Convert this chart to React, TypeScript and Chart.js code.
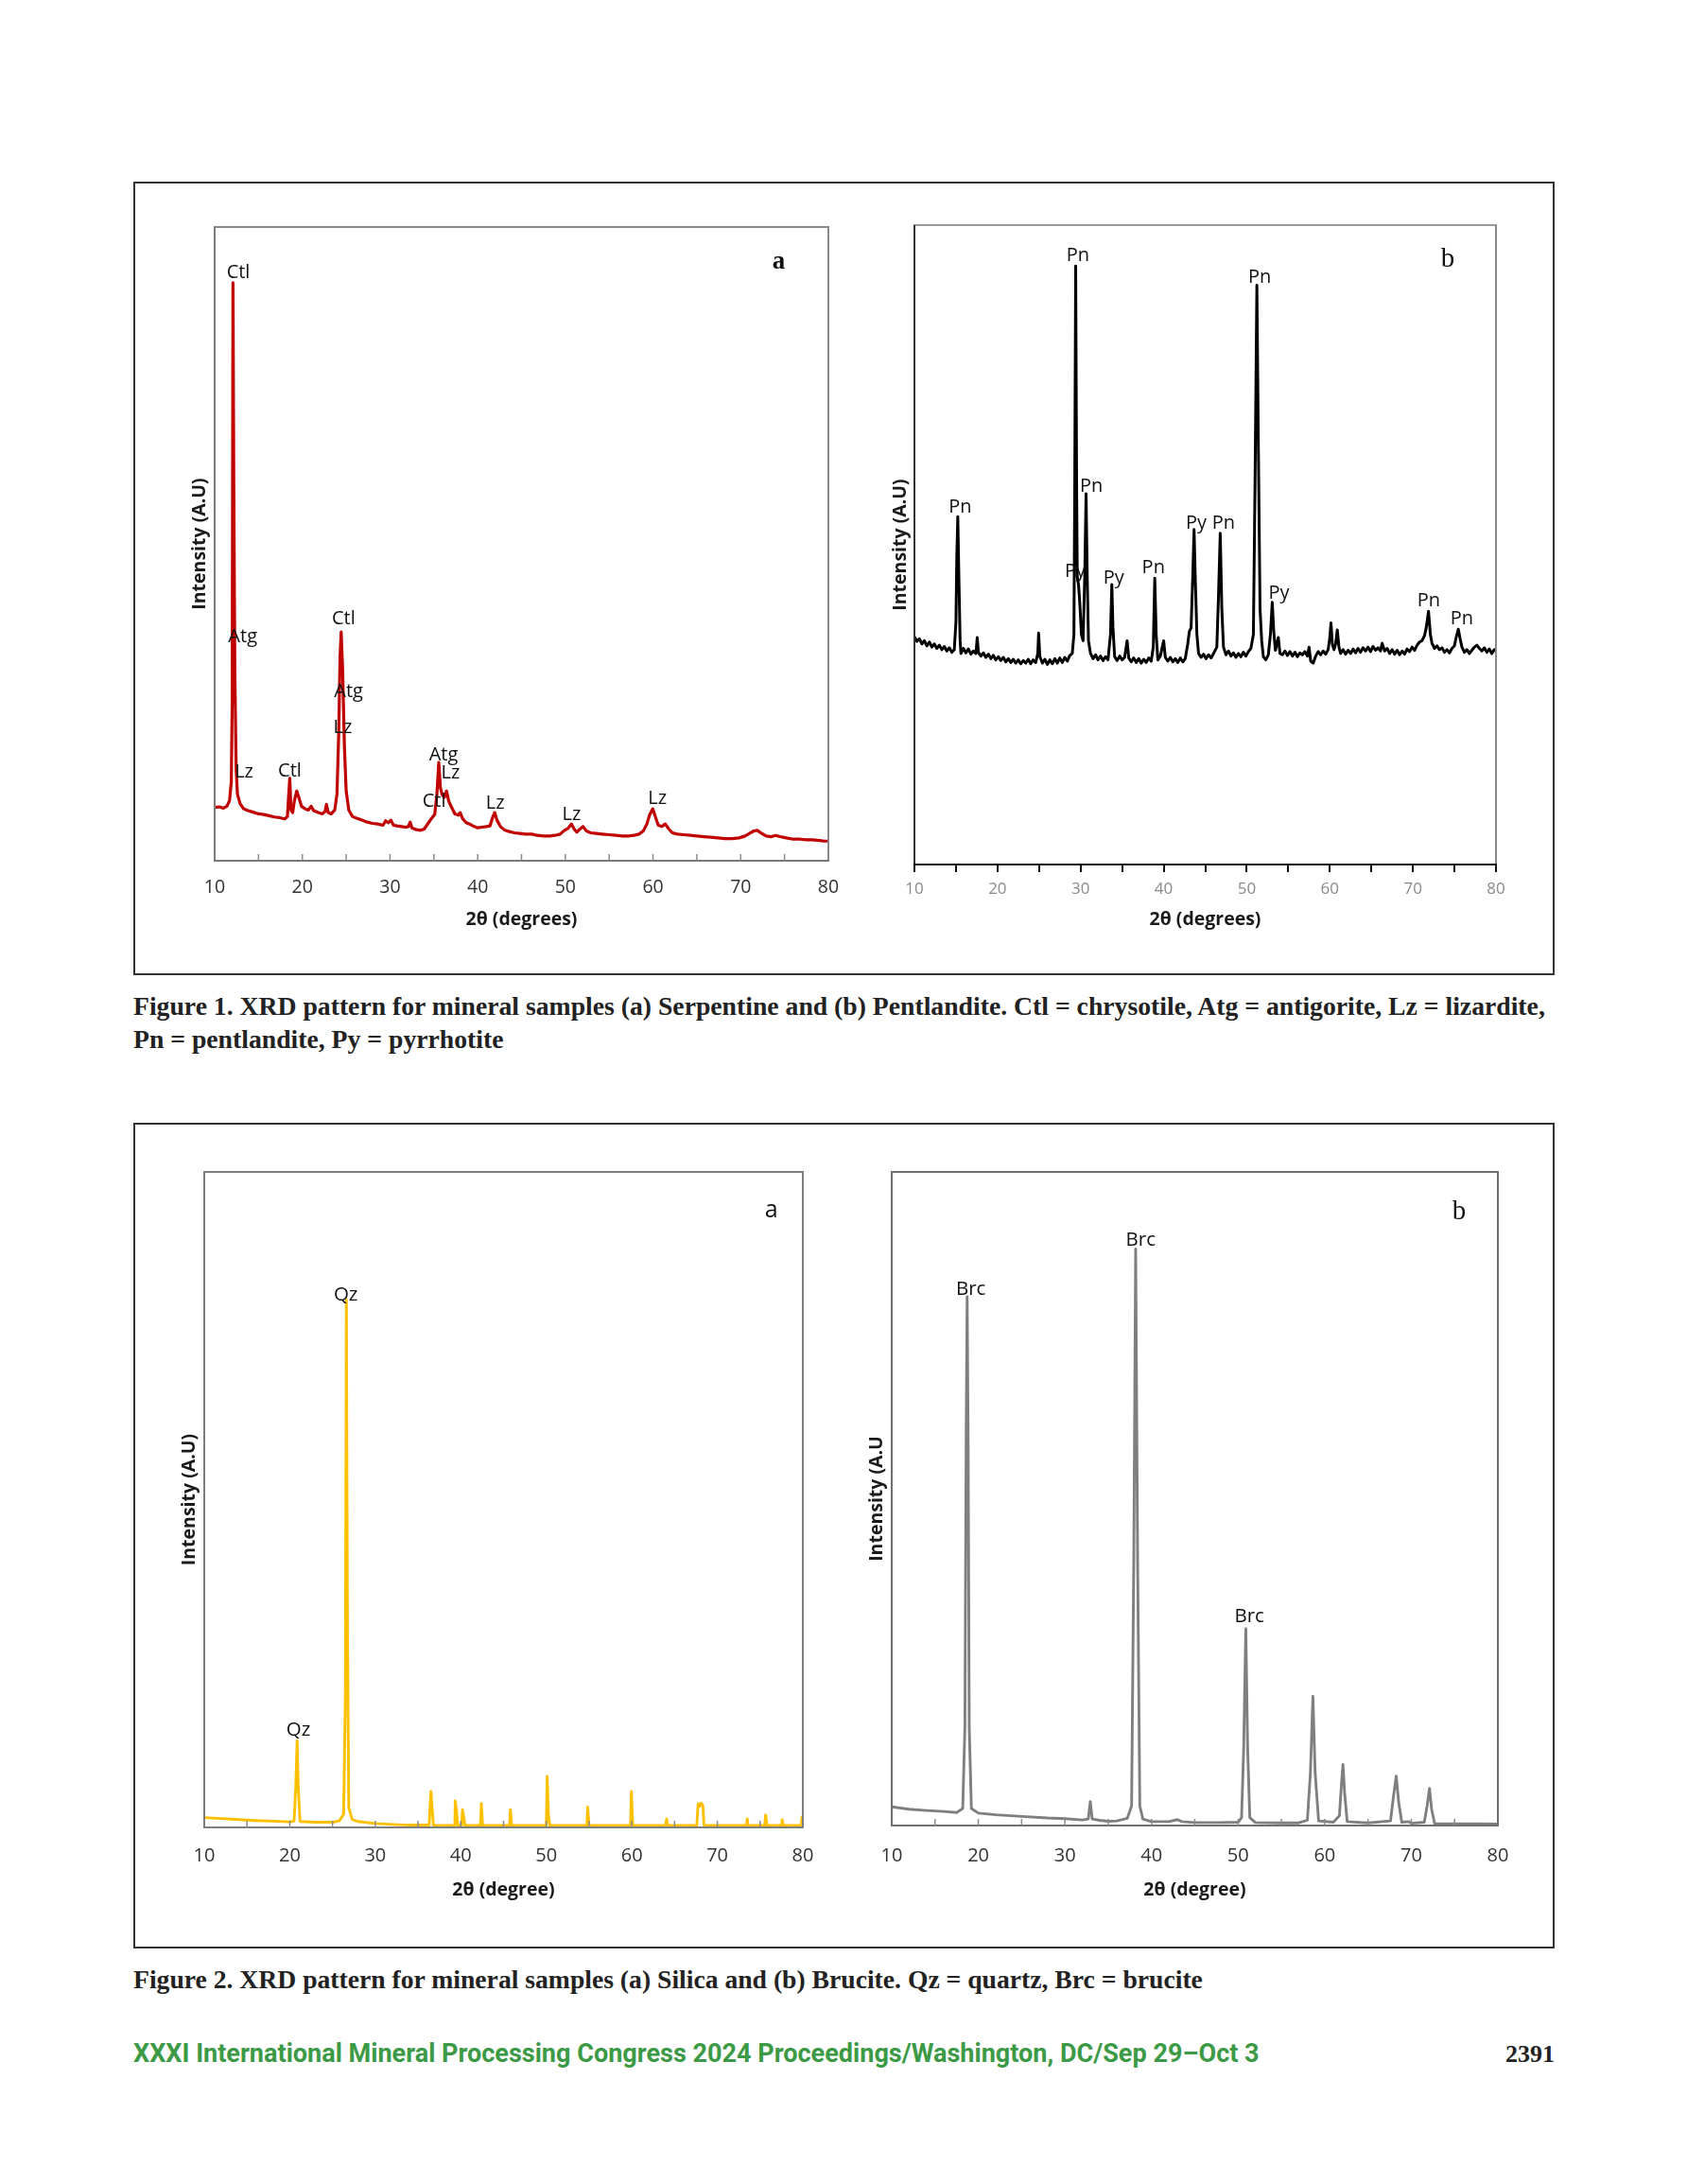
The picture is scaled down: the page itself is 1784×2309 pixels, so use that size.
import React, { useEffect, useMemo, useRef } from "react";
import { Chart, registerables } from "chart.js";

Chart.register(...registerables);

type Pt = [number, number];
type PeakLabel = { text: string; x: number; y: number };

// ---------- x-axis ticks (2θ, degrees) ----------
const thetaMajor = [10, 20, 30, 40, 50, 60, 70, 80];
const thetaMinor = [15, 20, 25, 30, 35, 40, 45, 50, 55, 60, 65, 70, 75];

// ---------- Figure 1a : Serpentine ----------
const serpentine: Pt[] = [
  [10.0, 8.4], [10.5, 8.5], [11.0, 8.3], [11.4, 8.6], [11.7, 9.5], [11.9, 12.5], [12.0, 25],
  [12.09, 91.2], [12.18, 60], [12.3, 30], [12.45, 14.5], [12.6, 10.5], [12.9, 9.0], [13.3, 8.2],
  [13.8, 7.9], [14.3, 7.7], [15.0, 7.4], [15.6, 7.3], [16.2, 7.1], [16.8, 6.9], [17.4, 6.8],
  [18.0, 6.6], [18.3, 7.0], [18.45, 10.5], [18.57, 13.0], [18.7, 8.0], [18.9, 7.6], [19.1, 9.5],
  [19.36, 11.0], [19.6, 10.0], [19.9, 8.6], [20.3, 8.2], [20.7, 8.0], [21.0, 8.6], [21.3, 7.9],
  [21.8, 7.6], [22.3, 7.4], [22.6, 7.8], [22.75, 8.9], [22.95, 7.6], [23.3, 7.4], [23.7, 8.0],
  [23.95, 10.5], [24.15, 20], [24.3, 32], [24.43, 36.1], [24.6, 30], [24.8, 18], [25.0, 11],
  [25.3, 8.0], [25.7, 7.0], [26.2, 6.7], [26.8, 6.4], [27.4, 6.1], [28.0, 5.9], [28.6, 5.8],
  [29.2, 5.6], [29.5, 6.3], [29.8, 6.0], [30.1, 6.4], [30.4, 5.6], [30.8, 5.5], [31.3, 5.4],
  [31.8, 5.3], [32.1, 5.4], [32.3, 6.1], [32.5, 5.2], [33.0, 4.9], [33.5, 4.8], [33.9, 5.0],
  [34.3, 5.8], [34.7, 6.6], [35.1, 7.3], [35.35, 10.5], [35.56, 15.5], [35.75, 11.5], [35.95, 10.4],
  [36.2, 10.0], [36.45, 11.0], [36.7, 9.4], [37.0, 8.5], [37.4, 7.4], [37.8, 7.2], [38.0, 7.6],
  [38.3, 6.6], [38.7, 6.0], [39.2, 5.7], [39.6, 5.4], [40.0, 5.2], [40.5, 5.3], [41.0, 5.4],
  [41.4, 5.5], [41.7, 6.8], [41.94, 7.6], [42.2, 6.4], [42.6, 5.4], [43.0, 4.9], [43.6, 4.6],
  [44.2, 4.4], [44.8, 4.3], [45.5, 4.2], [46.2, 4.2], [46.8, 4.0], [47.5, 3.9], [48.2, 3.9],
  [48.8, 4.0], [49.4, 4.2], [49.9, 4.8], [50.3, 5.1], [50.7, 5.8], [51.0, 5.0], [51.3, 4.5],
  [51.6, 4.9], [52.0, 5.4], [52.4, 4.7], [52.9, 4.4], [53.5, 4.3], [54.2, 4.2], [55.0, 4.1],
  [55.8, 4.0], [56.5, 3.9], [57.2, 3.9], [57.8, 4.0], [58.4, 4.2], [58.9, 4.7], [59.3, 5.8],
  [59.6, 7.2], [59.97, 8.2], [60.3, 6.8], [60.6, 5.6], [61.0, 5.4], [61.4, 5.8], [61.8, 5.0],
  [62.2, 4.4], [62.8, 4.2], [63.5, 4.1], [64.3, 4.0], [65.0, 3.9], [65.8, 3.8], [66.6, 3.7],
  [67.4, 3.6], [68.2, 3.5], [69.0, 3.5], [69.8, 3.6], [70.5, 3.9], [71.0, 4.3], [71.5, 4.7],
  [71.9, 4.8], [72.4, 4.3], [72.9, 3.9], [73.5, 3.8], [74.0, 4.0], [74.5, 3.8], [75.2, 3.6],
  [76.0, 3.4], [76.8, 3.4], [77.5, 3.3], [78.2, 3.3], [79.0, 3.2], [79.5, 3.1], [80.0, 3.1],
];
const serpentineLabels: PeakLabel[] = [
  { text: "Ctl", x: 12.7, y: 92.8 },
  { text: "Atg", x: 13.2, y: 35.3 },
  { text: "Lz", x: 13.35, y: 14.05 },
  { text: "Ctl", x: 18.57, y: 14.2 },
  { text: "Ctl", x: 24.7, y: 38.2 },
  { text: "Atg", x: 25.27, y: 26.6 },
  { text: "Lz", x: 24.6, y: 21.0 },
  { text: "Atg", x: 36.1, y: 16.65 },
  { text: "Lz", x: 36.9, y: 13.8 },
  { text: "Ctl", x: 35.04, y: 9.3 },
  { text: "Lz", x: 42.0, y: 9.1 },
  { text: "Lz", x: 50.7, y: 7.3 },
  { text: "Lz", x: 60.5, y: 9.75 },
];

// ---------- Figure 1b : Pentlandite ----------
const pentlandite: Pt[] = [
  [10.0, 35.6], [10.3, 34.9], [10.6, 35.3], [10.9, 34.5], [11.2, 35.0], [11.5, 34.2], [11.8, 34.8],
  [12.1, 34.0], [12.4, 34.5], [12.7, 33.8], [13.0, 34.3], [13.3, 33.6], [13.6, 34.1], [13.9, 33.4],
  [14.2, 33.9], [14.5, 33.2], [14.8, 33.6], [15.0, 38.0], [15.1, 48.0], [15.22, 54.4], [15.35, 45.0],
  [15.5, 35.0], [15.6, 33.0], [15.9, 33.8], [16.2, 33.1], [16.5, 33.7], [16.8, 32.9], [17.1, 33.4],
  [17.4, 33.0], [17.56, 35.5], [17.7, 33.2], [18.0, 32.6], [18.3, 33.1], [18.6, 32.4], [18.9, 32.9],
  [19.2, 32.2], [19.5, 32.7], [19.8, 32.0], [20.1, 32.5], [20.4, 31.9], [20.7, 32.4], [21.0, 31.7],
  [21.3, 32.2], [21.6, 31.6], [21.9, 32.1], [22.2, 31.5], [22.5, 32.0], [22.8, 31.4], [23.1, 31.9],
  [23.4, 31.5], [23.7, 32.1], [24.0, 31.4], [24.3, 32.0], [24.6, 31.6], [24.85, 33.0], [24.95, 36.2],
  [25.1, 32.5], [25.4, 31.5], [25.7, 32.1], [26.0, 31.3], [26.3, 32.0], [26.6, 31.4], [26.9, 32.2],
  [27.2, 31.5], [27.5, 32.3], [27.8, 31.6], [28.1, 32.4], [28.4, 31.8], [28.7, 32.7], [29.0, 33.0],
  [29.2, 36.0], [29.3, 60.0], [29.41, 93.6], [29.52, 60.0], [29.6, 45.0], [29.75, 43.8], [29.9, 41.0],
  [30.1, 36.0], [30.3, 35.0], [30.5, 45.0], [30.66, 58.0], [30.8, 45.0], [30.95, 35.0], [31.2, 33.0],
  [31.5, 32.2], [31.8, 32.8], [32.1, 32.0], [32.4, 32.6], [32.7, 31.9], [33.0, 32.5], [33.3, 32.0],
  [33.6, 36.0], [33.76, 43.8], [33.9, 37.0], [34.1, 32.5], [34.4, 31.9], [34.7, 32.6], [35.0, 32.0],
  [35.3, 32.4], [35.6, 35.0], [35.8, 32.3], [36.1, 31.7], [36.4, 32.3], [36.7, 31.6], [37.0, 32.2],
  [37.3, 31.5], [37.6, 32.1], [37.9, 31.6], [38.2, 32.3], [38.5, 31.8], [38.75, 34.0], [38.93, 44.8],
  [39.1, 36.0], [39.3, 32.0], [39.6, 32.6], [40.0, 35.0], [40.2, 32.4], [40.5, 31.8], [40.8, 32.4],
  [41.1, 31.7], [41.4, 32.2], [41.7, 31.6], [42.0, 32.3], [42.3, 31.7], [42.6, 32.2], [42.9, 34.5],
  [43.1, 36.5], [43.3, 37.0], [43.5, 45.0], [43.66, 52.4], [43.8, 45.0], [44.0, 36.0], [44.2, 33.0],
  [44.5, 32.4], [44.8, 32.9], [45.1, 32.2], [45.4, 32.8], [45.7, 32.3], [46.0, 33.0], [46.4, 34.0],
  [46.6, 42.0], [46.81, 51.8], [47.0, 40.0], [47.2, 34.0], [47.5, 32.8], [47.8, 33.4], [48.1, 32.6],
  [48.4, 33.1], [48.7, 32.4], [49.0, 33.0], [49.3, 32.5], [49.6, 33.2], [49.9, 32.6], [50.2, 33.3],
  [50.5, 33.8], [50.8, 36.0], [51.0, 60.0], [51.22, 90.6], [51.4, 65.0], [51.6, 40.0], [51.8, 35.0],
  [52.0, 32.5], [52.3, 32.0], [52.6, 32.8], [52.85, 36.0], [53.07, 41.0], [53.25, 36.5], [53.45, 33.5],
  [53.8, 35.5], [54.0, 33.0], [54.3, 32.8], [54.6, 33.4], [54.9, 32.7], [55.2, 33.3], [55.5, 32.6],
  [55.8, 33.2], [56.1, 32.5], [56.4, 33.1], [56.7, 32.8], [57.0, 33.3], [57.3, 32.6], [57.5, 34.0],
  [57.7, 31.8], [58.0, 31.5], [58.3, 32.6], [58.6, 33.3], [58.9, 32.8], [59.2, 33.4], [59.5, 32.9],
  [59.8, 33.6], [60.0, 35.5], [60.14, 37.8], [60.3, 34.5], [60.5, 33.6], [60.7, 34.5], [60.9, 36.7],
  [61.1, 34.0], [61.3, 33.0], [61.6, 33.6], [61.9, 32.9], [62.2, 33.5], [62.5, 33.0], [62.8, 33.7],
  [63.1, 33.1], [63.4, 33.8], [63.7, 33.2], [64.0, 33.9], [64.3, 33.4], [64.6, 34.0], [64.9, 33.3],
  [65.2, 34.1], [65.5, 33.5], [65.8, 33.9], [66.1, 33.4], [66.3, 34.6], [66.6, 33.4], [66.9, 33.8],
  [67.2, 33.0], [67.5, 33.6], [67.8, 32.9], [68.1, 33.5], [68.4, 32.8], [68.7, 33.4], [69.0, 32.9],
  [69.3, 33.7], [69.6, 33.3], [69.9, 34.0], [70.2, 33.5], [70.5, 34.3], [70.8, 34.8], [71.1, 35.0],
  [71.4, 35.8], [71.6, 37.0], [71.88, 39.6], [72.1, 36.0], [72.3, 34.6], [72.6, 33.8], [72.9, 34.2],
  [73.2, 33.6], [73.5, 33.9], [73.8, 33.2], [74.1, 33.6], [74.4, 33.1], [74.7, 33.8], [75.0, 34.2],
  [75.2, 35.5], [75.47, 36.8], [75.7, 35.2], [75.9, 34.0], [76.2, 33.2], [76.5, 33.6], [76.8, 33.0],
  [77.1, 33.5], [77.4, 34.0], [77.7, 34.3], [78.0, 33.8], [78.3, 33.4], [78.6, 33.9], [78.9, 33.2],
  [79.2, 33.7], [79.5, 33.0], [79.8, 33.6], [80.0, 33.6],
];
const pentlanditeLabels: PeakLabel[] = [
  { text: "Pn", x: 29.68, y: 95.2 },
  { text: "Pn", x: 51.55, y: 91.8 },
  { text: "Pn", x: 31.3, y: 59.2 },
  { text: "Pn", x: 15.5, y: 55.8 },
  { text: "Py", x: 29.36, y: 45.8 },
  { text: "Py", x: 34.0, y: 44.75 },
  { text: "Pn", x: 38.77, y: 46.4 },
  { text: "Py", x: 43.93, y: 53.4 },
  { text: "Pn", x: 47.2, y: 53.4 },
  { text: "Py", x: 53.88, y: 42.35 },
  { text: "Pn", x: 71.9, y: 41.2 },
  { text: "Pn", x: 75.9, y: 38.4 },
];

// ---------- Figure 2a : Silica ----------
const silica: Pt[] = [
  [10, 1.5], [12, 1.35], [14, 1.2], [16, 1.05], [18, 0.95], [20, 0.85], [20.5, 0.95], [20.7, 6],
  [20.86, 13.2], [21.0, 6], [21.2, 0.9], [23, 0.8], [25, 0.8], [25.8, 1.0], [26.3, 2.0], [26.5, 20],
  [26.62, 80.5], [26.75, 30], [26.9, 3], [27.3, 1.2], [28, 0.9], [30, 0.6], [32, 0.45], [34, 0.35],
  [36.3, 0.35], [36.4, 3], [36.51, 5.5], [36.65, 3], [36.8, 0.3], [39.3, 0.3], [39.35, 4.05],
  [39.5, 2.5], [39.65, 0.3], [40.1, 0.3], [40.2, 2.7], [40.35, 1.5], [40.5, 0.3], [42.3, 0.3],
  [42.41, 3.65], [42.55, 0.3], [45.7, 0.3], [45.8, 2.7], [45.95, 0.3], [50.0, 0.3], [50.1, 7.8],
  [50.25, 2], [50.4, 0.3], [54.75, 0.3], [54.84, 3.1], [55.0, 0.3], [59.85, 0.3], [59.95, 5.5],
  [60.1, 0.3], [63.95, 0.3], [64.07, 1.3], [64.2, 0.3], [67.6, 0.3], [67.75, 3.6], [67.95, 3.2],
  [68.1, 3.7], [68.3, 3.4], [68.45, 0.3], [73.4, 0.3], [73.5, 1.3], [73.6, 0.3], [75.55, 0.3],
  [75.65, 1.9], [75.8, 0.3], [77.5, 0.3], [77.6, 1.2], [77.7, 0.3], [79.8, 0.3], [79.9, 1.6], [80, 1.2],
];
const silicaLabels: PeakLabel[] = [
  { text: "Qz", x: 26.55, y: 81.2 },
  { text: "Qz", x: 21.0, y: 14.9 },
];

// ---------- Figure 2b : Brucite ----------
const brucite: Pt[] = [
  [10, 2.85], [12, 2.5], [14, 2.3], [16, 2.15], [17.5, 2.0], [18.2, 2.6], [18.45, 15], [18.6, 60],
  [18.71, 80.9], [18.82, 60], [18.95, 15], [19.2, 2.6], [20, 1.9], [22, 1.65], [25, 1.4], [28, 1.15],
  [30, 1.05], [32, 0.85], [32.7, 1.0], [32.93, 3.66], [33.15, 1.0], [34, 0.8], [35, 0.65], [36, 0.7],
  [37.2, 1.1], [37.7, 3], [37.95, 40], [38.17, 88.2], [38.4, 40], [38.65, 3], [39.0, 1.0], [40, 0.6],
  [42, 0.6], [43, 0.9], [43.5, 0.6], [45, 0.45], [48, 0.45], [50, 0.5], [50.4, 1.2], [50.65, 12],
  [50.89, 30.1], [51.1, 12], [51.35, 1.2], [52, 0.45], [55, 0.4], [57, 0.4], [58.0, 0.8], [58.35, 8],
  [58.64, 19.75], [58.9, 8], [59.3, 0.7], [61.0, 0.5], [61.7, 1.5], [61.92, 6], [62.11, 9.35],
  [62.3, 5], [62.6, 0.6], [65, 0.4], [67.6, 0.7], [67.95, 4.5], [68.26, 7.56], [68.55, 3.5],
  [68.9, 0.5], [69.7, 0.6], [70, 0.35], [71.5, 0.5], [71.85, 3.2], [72.1, 5.7], [72.35, 2.5],
  [72.7, 0.3], [75, 0.25], [78, 0.25], [80, 0.24],
];
const bruciteLabels: PeakLabel[] = [
  { text: "Brc", x: 19.14, y: 82.0 },
  { text: "Brc", x: 38.75, y: 89.5 },
  { text: "Brc", x: 51.3, y: 31.9 },
];

// ---------- layout ----------
const SANS = "'Open Sans', 'Noto Sans', sans-serif";
const SERIF = "'Liberation Serif', 'DejaVu Serif', serif";
const PAD_L = 60;
const PAD_T = 12;
const PAD_R = 16;
const XH = 100;
const TITLE_SIZE = 19.5;

interface PanelCfg {
  L: number; T: number; R: number; B: number;
  yTitleX: number; tickY: number; xTitleY: number;
  data: Pt[]; labels: PeakLabel[];
  color: string; lineWidth: number;
  labelSize: number;
  letter: { text: string; x: number; y: number; font: string };
  xTitle: string; yTitle: string;
  tickColor: string; tickSize: number; outerTicks: boolean;
  frame: { top: string; right: string; bottom: string; left: string };
}

const panels: PanelCfg[] = [
  {
    L: 227, T: 240, R: 876, B: 910, yTitleX: 211, tickY: 938, xTitleY: 972,
    data: serpentine, labels: serpentineLabels, color: "#c00000", lineWidth: 3.2, labelSize: 20,
    letter: { text: "a", x: 74.35, y: 94.5, font: `bold 27px ${SERIF}` },
    xTitle: "2θ (degrees)", yTitle: "Intensity (A.U)", tickColor: "#333", tickSize: 19.5, outerTicks: false,
    frame: { top: "#8a8a8a", right: "#8a8a8a", bottom: "#7a7a7a", left: "#7a7a7a" },
  },
  {
    L: 967, T: 238, R: 1582, B: 914, yTitleX: 952, tickY: 940, xTitleY: 972,
    data: pentlandite, labels: pentlanditeLabels, color: "#000000", lineWidth: 3.0, labelSize: 20,
    letter: { text: "b", x: 74.2, y: 94.6, font: `29px ${SERIF}` },
    xTitle: "2θ (degrees)", yTitle: "Intensity (A.U)", tickColor: "#8a8a8a", tickSize: 17, outerTicks: true,
    frame: { top: "#9a9a9a", right: "#8a8a8a", bottom: "#111", left: "#333" },
  },
  {
    L: 216, T: 1239, R: 849, B: 1932, yTitleX: 200, tickY: 1962, xTitleY: 1998,
    data: silica, labels: silicaLabels, color: "#ffc000", lineWidth: 2.9, labelSize: 20.5,
    letter: { text: "a", x: 76.33, y: 94.1, font: `25px ${SANS}` },
    xTitle: "2θ (degree)", yTitle: "Intensity (A.U)", tickColor: "#333", tickSize: 20, outerTicks: false,
    frame: { top: "#7f7f7f", right: "#7f7f7f", bottom: "#7f7f7f", left: "#7f7f7f" },
  },
  {
    L: 943, T: 1239, R: 1584, B: 1930, yTitleX: 927, tickY: 1962, xTitleY: 1998,
    data: brucite, labels: bruciteLabels, color: "#7f7f7f", lineWidth: 2.9, labelSize: 20.5,
    letter: { text: "b", x: 75.53, y: 93.9, font: `29px ${SERIF}` },
    xTitle: "2θ (degree)", yTitle: "Intensity (A.U", tickColor: "#333", tickSize: 20, outerTicks: false,
    frame: { top: "#6f6f6f", right: "#6f6f6f", bottom: "#6f6f6f", left: "#6f6f6f" },
  },
];

function XrdPanel({ cfg }: { cfg: PanelCfg }) {
  const ref = useRef<HTMLCanvasElement>(null);
  const w = cfg.R - cfg.L + PAD_L + PAD_R;
  const h = cfg.B - cfg.T + PAD_T + XH;

  useEffect(() => {
    const canvas = ref.current;
    if (!canvas) return;
    const tickLh = cfg.tickSize * 1.2;
    const titleLh = TITLE_SIZE * 1.2;
    const tl = cfg.outerTicks ? 8 : 0;
    const tickPadding = cfg.tickY - cfg.B - tickLh / 2 - tl;
    const xTitlePad = XH - (cfg.xTitleY - cfg.B) - titleLh / 2;
    const yTitlePad = cfg.yTitleX - (cfg.L - PAD_L) - titleLh / 2;

    const framePlugin = {
      id: "frame",
      afterDatasetsDraw(chart: any) {
        const { ctx, chartArea: a, scales } = chart;
        ctx.save();
        ctx.lineWidth = 2;
        const seg = (c: string, x1: number, y1: number, x2: number, y2: number) => {
          ctx.strokeStyle = c;
          ctx.beginPath();
          ctx.moveTo(x1, y1);
          ctx.lineTo(x2, y2);
          ctx.stroke();
        };
        seg(cfg.frame.top, a.left - 1, a.top, a.right + 1, a.top);
        seg(cfg.frame.right, a.right, a.top, a.right, a.bottom);
        seg(cfg.frame.left, a.left, a.top, a.left, a.bottom);
        seg(cfg.frame.bottom, a.left - 1, a.bottom, a.right + 1, a.bottom);
        if (!cfg.outerTicks) {
          ctx.lineWidth = 1.5;
          for (const v of thetaMinor) {
            const px = scales.x.getPixelForValue(v);
            seg("#8a8a8a", px, a.bottom, px, a.bottom - 7);
          }
        }
        ctx.restore();
      },
    };

    const labelPlugin = {
      id: "peakLabels",
      afterDraw(chart: any) {
        const { ctx, scales } = chart;
        ctx.save();
        ctx.textAlign = "center";
        ctx.textBaseline = "middle";
        ctx.fillStyle = "#111";
        ctx.font = `${cfg.labelSize}px ${SANS}`;
        for (const l of cfg.labels) {
          ctx.fillText(l.text, scales.x.getPixelForValue(l.x), scales.y.getPixelForValue(l.y));
        }
        ctx.font = cfg.letter.font;
        ctx.fillText(cfg.letter.text, scales.x.getPixelForValue(cfg.letter.x), scales.y.getPixelForValue(cfg.letter.y));
        ctx.restore();
      },
    };

    const tickValues = cfg.outerTicks
      ? Array.from(new Set([...thetaMajor, ...thetaMinor])).sort((a, b) => a - b)
      : thetaMajor;

    const chart = new Chart(canvas, {
      type: "line",
      data: {
        datasets: [
          {
            data: cfg.data.map(([x, y]) => ({ x, y })),
            borderColor: cfg.color,
            borderWidth: cfg.lineWidth,
            pointRadius: 0,
            tension: 0,
            fill: false,
            borderJoinStyle: "round",
          },
        ],
      },
      options: {
        responsive: false,
        animation: false,
        devicePixelRatio: 1,
        layout: { padding: { top: PAD_T, right: PAD_R, left: 0, bottom: 0 } },
        plugins: { legend: { display: false }, tooltip: { enabled: false } },
        scales: {
          x: {
            type: "linear",
            min: 10,
            max: 80,
            afterBuildTicks: (s: any) => {
              s.ticks = tickValues.map((v) => ({ value: v }));
            },
            afterFit: (s: any) => {
              s.height = XH;
              s.paddingLeft = 0;
              s.paddingRight = 0;
            },
            grid: cfg.outerTicks
              ? { display: true, drawOnChartArea: false, drawTicks: true, tickLength: 8, color: "#111", lineWidth: 2 }
              : { display: false, drawTicks: false, tickLength: 0 },
            border: { display: false },
            ticks: {
              autoSkip: false,
              maxRotation: 0,
              minRotation: 0,
              padding: tickPadding,
              color: cfg.tickColor,
              font: { family: SANS, size: cfg.tickSize },
              callback: (v: any) => (thetaMajor.includes(Number(v)) ? String(v) : ""),
            },
            title: {
              display: true,
              text: cfg.xTitle,
              color: "#1a1a1a",
              font: { family: SANS, size: TITLE_SIZE, weight: "bold" },
              padding: { top: 0, bottom: xTitlePad },
            },
          },
          y: {
            type: "linear",
            min: 0,
            max: 100,
            afterFit: (s: any) => {
              s.width = PAD_L;
              s.paddingTop = 0;
              s.paddingBottom = 0;
            },
            grid: { display: false, drawTicks: false },
            border: { display: false },
            ticks: { display: false },
            title: {
              display: true,
              text: cfg.yTitle,
              color: "#1a1a1a",
              font: { family: SANS, size: TITLE_SIZE, weight: "bold" },
              padding: { top: yTitlePad, bottom: 0 },
            },
          },
        },
      } as any,
      plugins: [framePlugin, labelPlugin],
    });
    return () => chart.destroy();
  }, [cfg]);

  return (
    <canvas
      ref={ref}
      width={w}
      height={h}
      style={{ position: "absolute", left: cfg.L - PAD_L, top: cfg.T - PAD_T, width: w, height: h }}
    />
  );
}

function fitSize(text: string, family: string, weight: string, target: number): number {
  const c = document.createElement("canvas").getContext("2d");
  if (!c) return 24;
  c.font = `${weight} 100px ${family}`;
  const wd = c.measureText(text).width;
  return (100 * target) / wd;
}

const caption1a =
  "Figure 1. XRD pattern for mineral samples (a) Serpentine and (b) Pentlandite. Ctl = chrysotile, Atg = antigorite, Lz = lizardite,";
const caption1b = "Pn = pentlandite, Py = pyrrhotite";
const caption2 =
  "Figure 2. XRD pattern for mineral samples (a) Silica and (b) Brucite. Qz = quartz, Brc = brucite";
const footer = "XXXI International Mineral Processing Congress 2024 Proceedings/Washington, DC/Sep 29–Oct 3";
const pageNo = "2391";

function TextLine(props: {
  text: string; left?: number; right?: number; cy: number; size: number; family: string; weight: string; color: string;
}) {
  const style: React.CSSProperties = {
    position: "absolute",
    top: props.cy - props.size * 0.5,
    fontSize: props.size,
    lineHeight: 1,
    whiteSpace: "nowrap",
    fontFamily: props.family,
    fontWeight: props.weight as any,
    color: props.color,
  };
  if (props.left !== undefined) style.left = props.left;
  if (props.right !== undefined) style.right = props.right;
  return <div style={style}>{props.text}</div>;
}

export default function App() {
  const sizes = useMemo(() => {
    const cap = fitSize(caption1a, SERIF, "bold", 1496);
    const cap2 = fitSize(caption2, SERIF, "bold", 1132);
    const foot = fitSize(footer, "'Roboto', 'Liberation Sans', sans-serif", "bold", 1191);
    return { cap, cap2, foot };
  }, []);

  return (
    <div style={{ position: "absolute", left: 0, top: 0, width: 1784, height: 2309, background: "#fff", overflow: "hidden" }}>
      <div style={{ position: "absolute", left: 141, top: 192, width: 1503, height: 839, border: "2px solid #333", boxSizing: "border-box" }} />
      <div style={{ position: "absolute", left: 141, top: 1187, width: 1503, height: 873, border: "2px solid #333", boxSizing: "border-box" }} />
      {panels.map((p, i) => (
        <XrdPanel key={i} cfg={p} />
      ))}
      <TextLine text={caption1a} left={141} cy={1064} size={sizes.cap} family={SERIF} weight="bold" color="#222" />
      <TextLine text={caption1b} left={141} cy={1099} size={sizes.cap} family={SERIF} weight="bold" color="#222" />
      <TextLine text={caption2} left={141} cy={2093} size={sizes.cap2} family={SERIF} weight="bold" color="#222" />
      <TextLine text={footer} left={141} cy={2172} size={sizes.foot} family="'Roboto', 'Liberation Sans', sans-serif" weight="bold" color="#3c9a46" />
      <TextLine text={pageNo} right={1784 - 1644} cy={2172} size={26} family={SERIF} weight="bold" color="#222" />
    </div>
  );
}
